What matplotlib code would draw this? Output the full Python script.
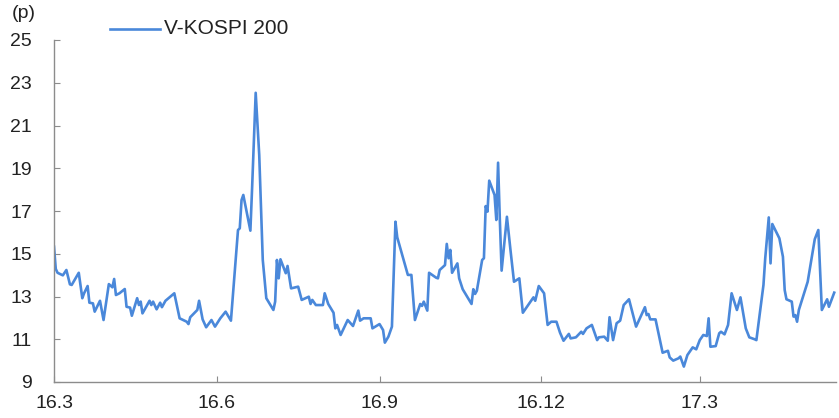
import matplotlib
matplotlib.use("Agg")
import matplotlib.pyplot as plt
import pandas as pd
from matplotlib import font_manager

dates = [
    "2016-03-01", "2016-03-02", "2016-03-03", "2016-03-06", "2016-03-08", "2016-03-10", "2016-03-11",
    "2016-03-15", "2016-03-17", "2016-03-18", "2016-03-20", "2016-03-21", "2016-03-23", "2016-03-24",
    "2016-03-27", "2016-03-29", "2016-04-01", "2016-04-03", "2016-04-04", "2016-04-05", "2016-04-07",
    "2016-04-10", "2016-04-11", "2016-04-13", "2016-04-14", "2016-04-17", "2016-04-18", "2016-04-19",
    "2016-04-20", "2016-04-24", "2016-04-25", "2016-04-26", "2016-04-28", "2016-04-30", "2016-05-01",
    "2016-05-03", "2016-05-08", "2016-05-09", "2016-05-11", "2016-05-15", "2016-05-16", "2016-05-17",
    "2016-05-21", "2016-05-22", "2016-05-24", "2016-05-26", "2016-05-29", "2016-05-31", "2016-06-03",
    "2016-06-06", "2016-06-09", "2016-06-13", "2016-06-14", "2016-06-15", "2016-06-16", "2016-06-20",
    "2016-06-21", "2016-06-23", "2016-06-25", "2016-06-27", "2016-06-29", "2016-07-03", "2016-07-04",
    "2016-07-05", "2016-07-06", "2016-07-07", "2016-07-10", "2016-07-11", "2016-07-13", "2016-07-17",
    "2016-07-19", "2016-07-23", "2016-07-24", "2016-07-25", "2016-07-27", "2016-07-31", "2016-08-01",
    "2016-08-03", "2016-08-06", "2016-08-07", "2016-08-08", "2016-08-10", "2016-08-14", "2016-08-17",
    "2016-08-20", "2016-08-21", "2016-08-23", "2016-08-27", "2016-08-28", "2016-09-01", "2016-09-03",
    "2016-09-04", "2016-09-06", "2016-09-08", "2016-09-10", "2016-09-11", "2016-09-17", "2016-09-19",
    "2016-09-21", "2016-09-24", "2016-09-25", "2016-09-26", "2016-09-28", "2016-09-29", "2016-10-03",
    "2016-10-04", "2016-10-05", "2016-10-08", "2016-10-09", "2016-10-10", "2016-10-11", "2016-10-12",
    "2016-10-15", "2016-10-16", "2016-10-18", "2016-10-23", "2016-10-24", "2016-10-25", "2016-10-26",
    "2016-10-29", "2016-10-30", "2016-10-31", "2016-11-01", "2016-11-02", "2016-11-05", "2016-11-06",
    "2016-11-07", "2016-11-08", "2016-11-09", "2016-11-12", "2016-11-14", "2016-11-16", "2016-11-19",
    "2016-11-21", "2016-11-27", "2016-11-28", "2016-11-30", "2016-12-03", "2016-12-05", "2016-12-07",
    "2016-12-10", "2016-12-12", "2016-12-14", "2016-12-17", "2016-12-18", "2016-12-21", "2016-12-24",
    "2016-12-25", "2016-12-27", "2016-12-30", "2017-01-02", "2017-01-03", "2017-01-06", "2017-01-08",
    "2017-01-09", "2017-01-11", "2017-01-13", "2017-01-15", "2017-01-17", "2017-01-20", "2017-01-24",
    "2017-01-29", "2017-01-30", "2017-01-31", "2017-02-01", "2017-02-04", "2017-02-08", "2017-02-11",
    "2017-02-12", "2017-02-14", "2017-02-17", "2017-02-18", "2017-02-20", "2017-02-22", "2017-02-25",
    "2017-02-27", "2017-03-01", "2017-03-03", "2017-03-05", "2017-03-06", "2017-03-07", "2017-03-10",
    "2017-03-12", "2017-03-13", "2017-03-15", "2017-03-17", "2017-03-19", "2017-03-22", "2017-03-24",
    "2017-03-27", "2017-03-29", "2017-04-01", "2017-04-02", "2017-04-06", "2017-04-07", "2017-04-09",
    "2017-04-10", "2017-04-11", "2017-04-15", "2017-04-17", "2017-04-18", "2017-04-19", "2017-04-22",
    "2017-04-23", "2017-04-24", "2017-04-25", "2017-04-26", "2017-05-01", "2017-05-05", "2017-05-07",
    "2017-05-09", "2017-05-12", "2017-05-13", "2017-05-16",
]

vkospi = [
    15.33, 14.29, 14.11, 13.99, 14.24, 13.57, 13.54,
    14.11, 12.92, 13.15, 13.49, 12.71, 12.68, 12.29,
    12.80, 11.90, 13.58, 13.43, 13.82, 13.07, 13.15,
    13.35, 12.52, 12.48, 12.10, 12.92, 12.60, 12.76,
    12.21, 12.80, 12.60, 12.76, 12.40, 12.71, 12.50,
    12.80, 13.15, 12.76, 11.98, 11.82, 11.71, 12.03,
    12.37, 12.80, 11.93, 11.56, 11.90, 11.59, 11.98,
    12.29, 11.87, 16.11, 16.19, 17.51, 17.75, 16.08,
    18.14, 22.53, 19.62, 14.71, 12.92, 12.37, 12.76,
    14.71, 13.85, 14.74, 14.09, 14.43, 13.38, 13.46,
    12.84, 12.99, 12.65, 12.84, 12.60, 12.60, 13.15,
    12.65, 12.24, 11.51, 11.67, 11.20, 11.90, 11.62,
    12.34, 11.87, 11.98, 11.98, 11.51, 11.71, 11.43,
    10.84, 11.12, 11.59, 16.50, 15.77, 14.01, 14.01,
    11.90, 12.65, 12.56, 12.76, 12.34, 14.11, 13.88,
    13.85, 14.24, 14.47, 15.46, 14.79, 15.18, 14.11,
    14.55, 13.85, 13.34, 12.65, 13.34, 13.12, 13.27,
    14.71, 14.79, 17.23, 16.97, 18.42, 17.75, 16.58,
    19.26, 16.58, 14.21, 16.73, 15.18, 13.69, 13.85,
    12.24, 12.96, 12.80, 13.49, 13.15, 11.67, 11.82,
    11.82, 11.31, 10.93, 11.25, 11.04, 11.09, 11.35,
    11.25, 11.51, 11.67, 10.96, 11.09, 11.12, 10.93,
    12.03, 10.96, 11.75, 11.87, 12.60, 12.87, 11.59,
    12.50, 12.13, 12.18, 11.93, 11.93, 10.37, 10.46,
    10.15, 10.00, 10.11, 10.19, 9.72, 10.26, 10.62,
    10.53, 10.96, 11.20, 11.15, 11.98, 10.65, 10.68,
    11.28, 11.35, 11.23, 11.67, 13.15, 12.37, 12.96,
    11.51, 11.09, 11.00, 10.96, 13.54, 14.79, 16.70,
    14.55, 16.39, 15.72, 14.86, 13.30, 12.87, 12.76,
    12.06, 12.13, 11.82, 12.37, 13.69, 15.68, 16.11,
    12.37, 12.87, 12.52, 13.18,
]

tick_dates = ["2016-03-01", "2016-06-01", "2016-09-01", "2016-12-01", "2017-03-01"]
tick_labels = ["16.3", "16.6", "16.9", "16.12", "17.3"]
y_ticks = [9, 11, 13, 15, 17, 19, 21, 23, 25]
series_name = "V-KOSPI 200"
unit_label = "(p)"

names = {f.name for f in font_manager.fontManager.ttflist}
fam = ["Liberation Sans Narrow", "DejaVu Sans"] if "Liberation Sans Narrow" in names else ["Liberation Sans", "DejaVu Sans"]
plt.rcParams["font.family"] = fam

x = pd.to_datetime(dates)
fig = plt.figure(figsize=(8.39, 4.18), dpi=100)
ax = fig.add_axes([54 / 839, 1 - 382 / 418, (836 - 54) / 839, (382 - 40) / 418])

color = "#4A88DA"
ax.plot(x, vkospi, color=color, lw=1.9, solid_joinstyle="round")

ax.set_ylim(9, 25)
ax.set_yticks(y_ticks)
ax.set_xlim(pd.Timestamp("2016-03-01"), pd.Timestamp("2017-05-17"))
ax.set_xticks(pd.to_datetime(tick_dates))
ax.set_xticklabels(tick_labels)

for s in ["top", "right"]:
    ax.spines[s].set_visible(False)
for s in ["left", "bottom"]:
    ax.spines[s].set_color("#8c8c8c")
    ax.spines[s].set_linewidth(1.0)

ax.tick_params(axis="y", direction="in", length=4, color="#8c8c8c", labelsize=14, pad=16, labelcolor="#222222")
ax.tick_params(axis="x", direction="in", length=4, color="#8c8c8c", labelsize=14, pad=9, labelcolor="#222222")

fig.text(12 / 839, 1 - 14 / 418, unit_label, fontsize=14, va="center", ha="left", color="#222222")

leg_y = 1 - 29 / 418
fig.lines.append(plt.Line2D([110 / 839, 160 / 839], [leg_y, leg_y], transform=fig.transFigure, color=color, lw=1.9))
fig.text(164 / 839, leg_y, series_name, fontsize=15, va="center", ha="left", color="#222222")

fig.savefig("out.png", dpi=100)
